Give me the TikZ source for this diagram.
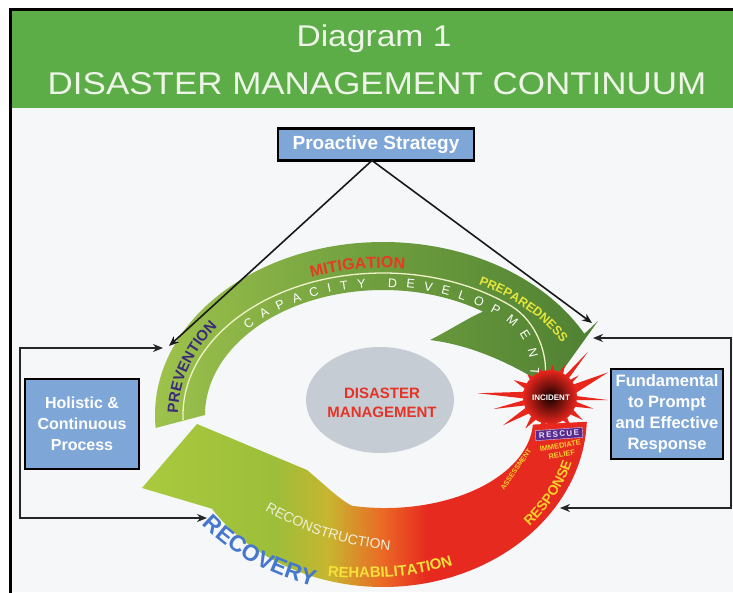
\documentclass[tikz,border=0pt]{standalone}
\usepackage{fontspec}
\setmainfont{Liberation Sans}
\usetikzlibrary{arrows.meta,decorations.text}
\definecolor{hdr}{HTML}{5CAD47}
\definecolor{ttl}{HTML}{EEF4E8}
\definecolor{bgc}{HTML}{F6F7F9}
\definecolor{boxfill}{HTML}{7EA7D8}
\definecolor{ugA}{HTML}{A0C44C}
\definecolor{ugB}{HTML}{72A140}
\definecolor{ugC}{HTML}{4F8032}
\definecolor{lgA}{HTML}{A9C93E}
\definecolor{lgB}{HTML}{9DBE3A}
\definecolor{ylw}{HTML}{C7B52F}
\definecolor{org}{HTML}{EA6A25}
\definecolor{rd}{HTML}{E62A1F}
\definecolor{starred}{HTML}{E8261C}
\definecolor{grayel}{HTML}{C6CCD4}
\definecolor{dmred}{HTML}{E53326}
\definecolor{mitcol}{HTML}{E63A22}
\definecolor{prepcol}{HTML}{E4E63C}
\definecolor{prevcol}{HTML}{3B2A7A}
\definecolor{recov}{HTML}{4677CF}
\definecolor{reconst}{HTML}{F0F0D8}
\definecolor{rehab}{HTML}{F6E03A}
\definecolor{respc}{HTML}{F8D02E}
\definecolor{rescue}{HTML}{5B2A8C}
\definecolor{wline}{HTML}{F2F2C8}
\pgfdeclarehorizontalshading{upband}{100bp}{color(0bp)=(ugA); color(25bp)=(ugA); color(48bp)=(ugB); color(75bp)=(ugC); color(100bp)=(ugC)}
\pgfdeclarehorizontalshading{lowband}{100bp}{color(0bp)=(lgA); color(25bp)=(lgA); color(40bp)=(lgB); color(46bp)=(ylw); color(52bp)=(org); color(57bp)=(rd); color(100bp)=(rd)}
\tikzset{
  bluebox/.style={draw=black, line width=2.2pt, fill=boxfill, text=white, align=center, inner sep=0pt},
  conn/.style={line width=1.6pt, draw=black!90, arrows={-Stealth[length=10pt,width=8pt]}},
  conn2/.style={line width=1.6pt, draw=black!85, arrows={Stealth[length=10pt,width=8pt]-Stealth[length=10pt,width=8pt]}},
  lbl/.style={inner sep=0pt},
  ttlnode/.style={anchor=base, text=ttl, inner sep=0pt},
}
\begin{document}
\begin{tikzpicture}[x=1pt,y=1pt]
\useasboundingbox (0,0) rectangle (733,-592);
\fill[white] (0,0) rectangle (733,-592);
\fill[bgc] (10,-10) rectangle (733,-592);
\fill[hdr] (11,-10) rectangle (733,-108);
\draw[line width=3pt] (10,-593) -- (10,-9.5) -- (734,-9.5);
\node[ttlnode, font=\fontsize{30}{30}\selectfont, xscale=1.12] (t1) at (374,-46) {Diagram 1};
\node[ttlnode, font=\fontsize{31.5}{31.5}\selectfont, xscale=1.11] (t2) at (377,-94.5) {DISASTER MANAGEMENT CONTINUUM};
% centre ellipse
\fill[grayel] (380,-400) ellipse [x radius=74, y radius=53];
\node[text=dmred, font=\bfseries\fontsize{15}{19}\selectfont, align=center] (dm) at (382,-403) {DISASTER\\MANAGEMENT};
\begin{scope}[shift={(383,-415)}]
% upper band
\shade[shading=upband] (184.3:228 and 173) arc[start angle=184.3, end angle=28, x radius=228, y radius=173]
  -- (215,94) -- (167,27) .. controls (127,53) and (87,70) .. (47,75)
  .. controls (67,85) and (85,97) .. (55.8:178 and 125)
  arc[start angle=55.8, end angle=180, x radius=178, y radius=125] -- cycle;
% lower band
\shade[shading=lowband] (149.8,-9.6) -- (-2.25:204 and 172)
  arc[start angle=-2.25, end angle=-147, x radius=204, y radius=172]
  -- (-241,-73) -- (-186,-9) -- (-76,-55)
  .. controls (-58,-70) and (-43,-85) .. (-31,-90.8)
  arc[start angle=-102.9, end angle=-3, x radius=148, y radius=88] -- cycle;
% white line
\draw[wline, line width=1.3pt] (182:200 and 142) arc[start angle=182, end angle=50, x radius=200, y radius=142]
  .. controls (154,93) and (165,60) .. (162,38);
% curved labels
\path[decorate, decoration={text along path, text={|\fontsize{16}{16}\selectfont\bfseries|MITIGATION}, text align=center, text color=mitcol}]
  (125:204 and 147) arc[start angle=125, end angle=70, x radius=204, y radius=147];
\path[decorate, decoration={text along path, text={|\fontsize{12.5}{12.5}\selectfont|CAPACITY DEVELOPMENT}, text align={fit to path}, text color=white}]
  (138:182 and 128) arc[start angle=138, end angle=50, x radius=182, y radius=128]
  .. controls (139,86) and (150,62) .. (147,40);
\path[decorate, decoration={text along path, text={|\fontsize{12.5}{12.5}\selectfont\bfseries|PREPAREDNESS}, text align=center, text color=prepcol}]
  (68:205 and 148) arc[start angle=68, end angle=22, x radius=205, y radius=148];
\path[decorate, decoration={text along path, text={|\fontsize{15}{15}\selectfont\bfseries|PREVENTION}, text align=center, text color=prevcol}]
  (186:205 and 150) arc[start angle=186, end angle=138, x radius=205, y radius=150];
\path[decorate, decoration={text along path, text={|\fontsize{23}{23}\selectfont\bfseries|RECOVERY}, text align=center, text color=recov}]
  (205:228 and 180) arc[start angle=205, end angle=263, x radius=228, y radius=180];
\path[decorate, decoration={text along path, text={|\fontsize{14}{14}\selectfont\bfseries|RESPONSE}, text align=center, text color=respc}]
  (-47:197 and 167) arc[start angle=-47, end angle=-11, x radius=197, y radius=167];
\end{scope}
\path[decorate, decoration={text along path, text={|\fontsize{14}{14}\selectfont|RECONSTRUCTION}, text align=center, text color=reconst}]
  (258,-506) .. controls (300,-532) and (345,-547) .. (398,-551);
\path[decorate, decoration={text along path, text={|\fontsize{15}{15}\selectfont\bfseries|REHABILITATION}, text align=center, text color=rehab}]
  (318,-575) .. controls (360,-581) and (420,-578) .. (462,-562);
% incident star
\begin{scope}[shift={(550,-397)}]
\fill[starred] (-3:58) -- (4:22) -- (23:63) -- (30:22) -- (37:36) -- (43:22) -- (50:59) -- (57:22) -- (65:36) -- (75:21)
  -- (85:32) -- (97:21) -- (110:30) -- (122:21) -- (135:32) -- (145:21) -- (155:40) -- (166:22) -- (177:72) -- (185:22)
  -- (192:58) -- (201:22) -- (211:55) -- (221:22) -- (232:40) -- (243:21) -- (255:34) -- (267:21) -- (280:38) -- (292:21)
  -- (305:36) -- (315:21) -- (325:40) -- (335:22) -- (345:45) -- (352:22) -- cycle;
\shade[inner color=black!92!red, outer color=starred] (0,0) circle (27);
\end{scope}
\node[text=white, font=\bfseries\fontsize{8}{8}\selectfont] (inc) at (551,-398) {INCIDENT};
\node[fill=rescue, draw=white!80!blue, line width=0.4pt, text=white!90!blue, font=\bfseries\fontsize{8}{8}\selectfont, minimum width=47pt, minimum height=10pt, inner sep=0pt, rotate=4] (rs) at (559,-434) {R\,E\,S\,C\,U\,E};
\node[lbl, text=respc, font=\bfseries\fontsize{7.5}{8.5}\selectfont, align=center, rotate=10] (imr) at (561,-450) {IMMEDIATE\\RELIEF};
\node[lbl, text=respc, font=\bfseries\fontsize{7}{7}\selectfont, rotate=55] (asm) at (516,-469) {ASSESSMENT};
% boxes
\node[bluebox, minimum width=196pt, minimum height=32pt, font=\bfseries\fontsize{19}{19}\selectfont] (ps) at (376,-144.5) {Proactive Strategy};
\node[bluebox, minimum width=114pt, minimum height=90pt, font=\bfseries\fontsize{16}{21}\selectfont] (hc) at (82,-424) {Holistic \&\\Continuous\\Process};
\node[bluebox, minimum width=112pt, minimum height=90pt, font=\bfseries\fontsize{16.5}{21}\selectfont] (fr) at (667,-414) {Fundamental\\to Prompt\\and Effective\\Response};
% connectors
\coordinate (apex) at (372,-160.5);
\coordinate (pl) at (169,-346);
\coordinate (pr) at (592,-323);
\draw[conn] (apex) -- (pl);
\draw[conn] (apex) -- (pr);
\coordinate (la) at (163,-348);
\coordinate (lc1) at (20,-348);
\coordinate (lc2) at (20,-518);
\coordinate (lb) at (207,-518);
\draw[conn2] (la) -- (lc1) -- (lc2) -- (lb);
\coordinate (ra) at (593,-338);
\coordinate (rc1) at (731,-338);
\coordinate (rc2) at (731,-508);
\coordinate (rb) at (560,-508);
\draw[conn2] (ra) -- (rc1) -- (rc2) -- (rb);
\end{tikzpicture}
\end{document}
